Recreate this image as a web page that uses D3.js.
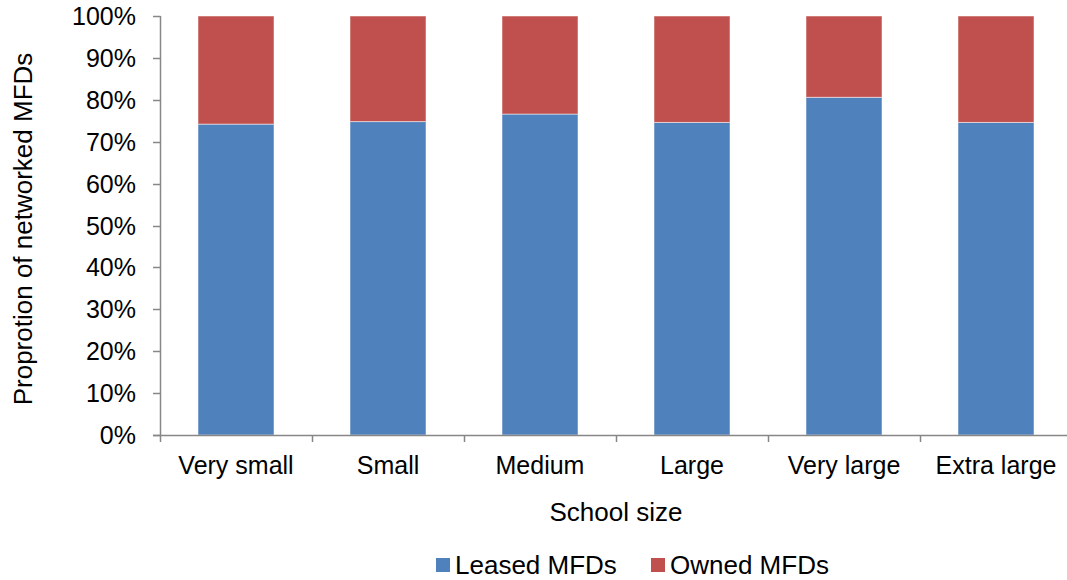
<!DOCTYPE html>
<html>
<head>
<meta charset="utf-8">
<script src="https://cdn.jsdelivr.net/npm/d3@7"></script>
<style>
  html, body { margin: 0; padding: 0; background: #fff; }
  svg { display: block; font-family: "Liberation Sans", Arial, sans-serif; }
</style>
</head>
<body>
<svg id="chart" width="1067" height="580"></svg>
<script>
const categories = ["Very small", "Small", "Medium", "Large", "Very large", "Extra large"];
const leased = [0.742, 0.748, 0.766, 0.746, 0.806, 0.746];
const owned  = [0.258, 0.252, 0.234, 0.254, 0.194, 0.254];
const seriesNames = ["Leased MFDs", "Owned MFDs"];
const seriesColors = ["#4F81BD", "#C0504D"];
const yTicks = [0, 0.1, 0.2, 0.3, 0.4, 0.5, 0.6, 0.7, 0.8, 0.9, 1.0];

const svg = d3.select("#chart");
const axisColor = "#878787";

const x = d3.scaleBand().domain(categories).range([160, 1072]).paddingInner(0.5).paddingOuter(0.25);
const y = d3.scaleLinear().domain([0, 1]).range([435, 16]);

const rows = categories.map((c, i) => ({ cat: c, leased: leased[i], owned: owned[i] }));
const stack = d3.stack().keys(["leased", "owned"]);
const stacked = stack(rows);

svg.append("g").selectAll("g")
  .data(stacked)
  .join("g")
  .attr("fill", (d, i) => seriesColors[i])
  .selectAll("rect")
  .data(d => d)
  .join("rect")
  .attr("x", d => x(d.data.cat))
  .attr("width", x.bandwidth())
  .attr("y", d => y(d[1]))
  .attr("height", d => y(d[0]) - y(d[1]))
  .attr("stroke", "#ffffff")
  .attr("stroke-opacity", 0.5)
  .attr("stroke-width", 1);

// Y axis
const yAxis = svg.append("g");
yAxis.append("line").attr("x1", 160.5).attr("x2", 160.5).attr("y1", y(1)).attr("y2", y(0))
  .attr("stroke", axisColor).attr("stroke-width", 1.5);
yAxis.selectAll("line.tick").data(yTicks).join("line").attr("class", "tick")
  .attr("x1", 153).attr("x2", 160.5)
  .attr("y1", d => Math.round(y(d)) + 0.5).attr("y2", d => Math.round(y(d)) + 0.5)
  .attr("stroke", axisColor).attr("stroke-width", 1.5);
yAxis.selectAll("text").data(yTicks).join("text")
  .attr("x", 136).attr("y", d => y(d))
  .attr("dy", "0.36em")
  .attr("text-anchor", "end")
  .attr("font-size", 25)
  .attr("fill", "#000")
  .text(d => d3.format(".0%")(d));

// X axis
const xAxis = svg.append("g");
xAxis.append("line").attr("x1", 153).attr("x2", 1072).attr("y1", 435.5).attr("y2", 435.5)
  .attr("stroke", axisColor).attr("stroke-width", 1.5);
const boundaries = categories.map(c => x(c) - x.step() * x.paddingInner() / 2 - x.bandwidth() * 0 ).map((v, i) => x(categories[i]) - (x.step() - x.bandwidth()) / 2);
boundaries.push(x(categories[categories.length - 1]) + x.bandwidth() + (x.step() - x.bandwidth()) / 2);
xAxis.selectAll("line.tick").data(boundaries).join("line").attr("class", "tick")
  .attr("x1", d => Math.round(d) + 0.5).attr("x2", d => Math.round(d) + 0.5)
  .attr("y1", 435).attr("y2", 442)
  .attr("stroke", axisColor).attr("stroke-width", 1.5);
xAxis.selectAll("text").data(categories).join("text")
  .attr("x", d => x(d) + x.bandwidth() / 2)
  .attr("y", 474)
  .attr("text-anchor", "middle")
  .attr("font-size", 25)
  .attr("fill", "#000")
  .text(d => d);

// Axis titles
svg.append("text")
  .attr("x", 616).attr("y", 521)
  .attr("text-anchor", "middle")
  .attr("font-size", 26)
  .attr("fill", "#000")
  .text("School size");

svg.append("text")
  .attr("transform", "translate(32,229) rotate(-90)")
  .attr("text-anchor", "middle")
  .attr("font-size", 26)
  .attr("fill", "#000")
  .text("Proprotion of networked MFDs");

// Legend
const legendX = [436, 651];
const legend = svg.append("g");
seriesNames.forEach((name, i) => {
  legend.append("rect")
    .attr("x", legendX[i]).attr("y", 558)
    .attr("width", 14).attr("height", 14)
    .attr("fill", seriesColors[i]);
  legend.append("text")
    .attr("x", legendX[i] + 19).attr("y", 574)
    .attr("font-size", 26)
    .attr("fill", "#000")
    .text(name);
});
</script>
</body>
</html>
